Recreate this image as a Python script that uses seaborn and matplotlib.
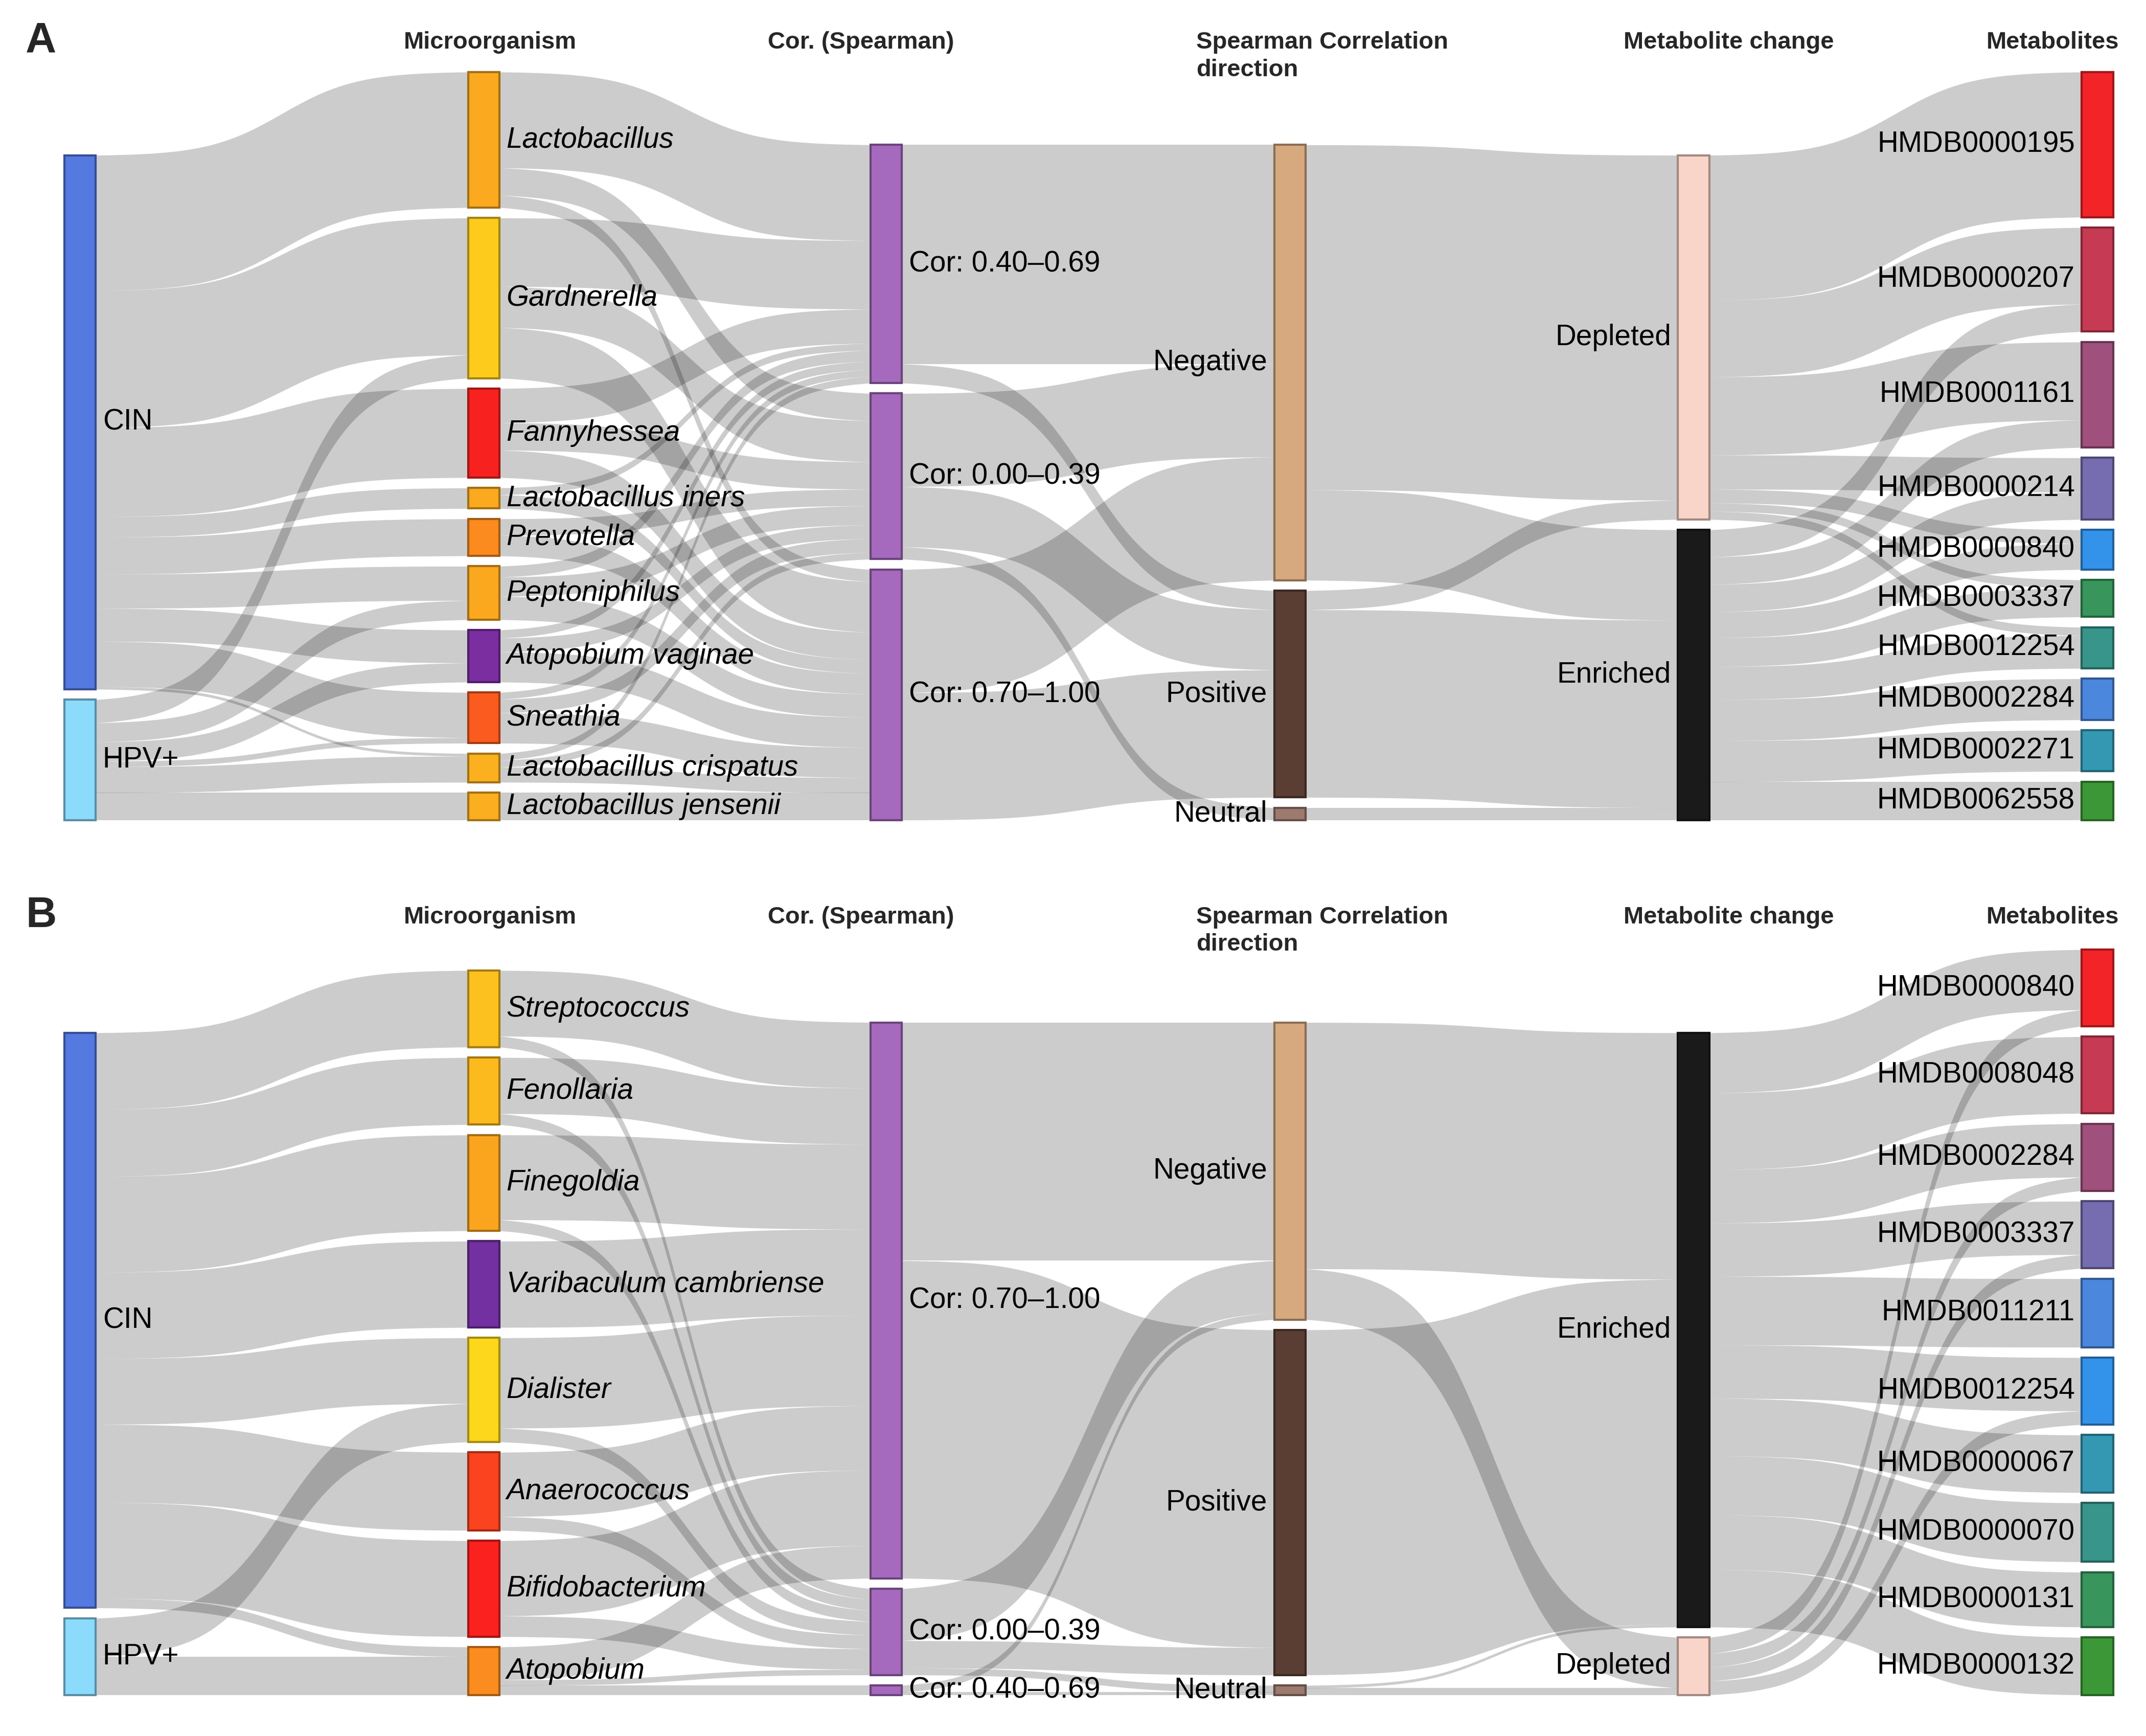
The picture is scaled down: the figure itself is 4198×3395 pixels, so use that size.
import numpy as np
import matplotlib.pyplot as plt
import matplotlib.colors as mcolors
import seaborn as sns

sns.set_theme(style="white")
plt.rcParams['font.family'] = ['Liberation Sans', 'DejaVu Sans']

# ---- panel A ----
a_group = ["CIN", "HPV+"]
a_micro = ["Lactobacillus", "Gardnerella", "Fannyhessea", "Lactobacillus iners", "Prevotella",
           "Peptoniphilus", "Atopobium vaginae", "Sneathia", "Lactobacillus crispatus",
           "Lactobacillus jensenii"]
a_cor = ["Cor: 0.40–0.69", "Cor: 0.00–0.39", "Cor: 0.70–1.00"]
a_dir = ["Negative", "Positive", "Neutral"]
a_change = ["Depleted", "Enriched"]
a_metab = ["HMDB0000195", "HMDB0000207", "HMDB0001161", "HMDB0000214", "HMDB0000840",
           "HMDB0003337", "HMDB0012254", "HMDB0002284", "HMDB0002271", "HMDB0062558"]

a_group_micro = [
    ("CIN", "Lactobacillus", 99), ("CIN", "Gardnerella", 100), ("CIN", "Fannyhessea", 65),
    ("CIN", "Lactobacillus iners", 15), ("CIN", "Prevotella", 27), ("CIN", "Peptoniphilus", 25),
    ("CIN", "Atopobium vaginae", 24), ("CIN", "Sneathia", 33), ("CIN", "Lactobacillus crispatus", 2),
    ("HPV+", "Gardnerella", 17), ("HPV+", "Peptoniphilus", 14), ("HPV+", "Atopobium vaginae", 14),
    ("HPV+", "Sneathia", 4), ("HPV+", "Lactobacillus crispatus", 19), ("HPV+", "Lactobacillus jensenii", 20),
]
a_micro_cor = [
    ("Lactobacillus", "Cor: 0.40–0.69", 70), ("Lactobacillus", "Cor: 0.00–0.39", 20), ("Lactobacillus", "Cor: 0.70–1.00", 9),
    ("Gardnerella", "Cor: 0.40–0.69", 50), ("Gardnerella", "Cor: 0.00–0.39", 30), ("Gardnerella", "Cor: 0.70–1.00", 37),
    ("Fannyhessea", "Cor: 0.40–0.69", 25), ("Fannyhessea", "Cor: 0.00–0.39", 20), ("Fannyhessea", "Cor: 0.70–1.00", 20),
    ("Lactobacillus iners", "Cor: 0.40–0.69", 5), ("Lactobacillus iners", "Cor: 0.70–1.00", 10),
    ("Prevotella", "Cor: 0.00–0.39", 12), ("Prevotella", "Cor: 0.70–1.00", 15),
    ("Peptoniphilus", "Cor: 0.40–0.69", 8), ("Peptoniphilus", "Cor: 0.00–0.39", 14), ("Peptoniphilus", "Cor: 0.70–1.00", 17),
    ("Atopobium vaginae", "Cor: 0.40–0.69", 6), ("Atopobium vaginae", "Cor: 0.00–0.39", 10), ("Atopobium vaginae", "Cor: 0.70–1.00", 22),
    ("Sneathia", "Cor: 0.40–0.69", 5), ("Sneathia", "Cor: 0.00–0.39", 10), ("Sneathia", "Cor: 0.70–1.00", 22),
    ("Lactobacillus crispatus", "Cor: 0.40–0.69", 5), ("Lactobacillus crispatus", "Cor: 0.00–0.39", 5),
    ("Lactobacillus crispatus", "Cor: 0.70–1.00", 11),
    ("Lactobacillus jensenii", "Cor: 0.70–1.00", 20),
]
a_cor_dir = [
    ("Cor: 0.40–0.69", "Negative", 160), ("Cor: 0.40–0.69", "Positive", 14),
    ("Cor: 0.00–0.39", "Negative", 68), ("Cor: 0.00–0.39", "Positive", 44), ("Cor: 0.00–0.39", "Neutral", 9),
    ("Cor: 0.70–1.00", "Negative", 90), ("Cor: 0.70–1.00", "Positive", 93),
]
a_dir_change = [
    ("Negative", "Depleted", 252), ("Negative", "Enriched", 66),
    ("Positive", "Depleted", 14), ("Positive", "Enriched", 137),
    ("Neutral", "Enriched", 9),
]
a_change_metab = [
    ("Depleted", "HMDB0000195", 106), ("Depleted", "HMDB0000207", 56), ("Depleted", "HMDB0001161", 57),
    ("Depleted", "HMDB0000214", 25), ("Depleted", "HMDB0000840", 10), ("Depleted", "HMDB0003337", 6),
    ("Depleted", "HMDB0012254", 6),
    ("Enriched", "HMDB0000207", 20), ("Enriched", "HMDB0001161", 20), ("Enriched", "HMDB0000214", 20),
    ("Enriched", "HMDB0000840", 19), ("Enriched", "HMDB0003337", 21), ("Enriched", "HMDB0012254", 24),
    ("Enriched", "HMDB0002284", 30), ("Enriched", "HMDB0002271", 30), ("Enriched", "HMDB0062558", 28),
]

# ---- panel B ----
b_group = ["CIN", "HPV+"]
b_micro = ["Streptococcus", "Fenollaria", "Finegoldia", "Varibaculum cambriense", "Dialister",
           "Anaerococcus", "Bifidobacterium", "Atopobium"]
b_cor = ["Cor: 0.70–1.00", "Cor: 0.00–0.39", "Cor: 0.40–0.69"]
b_dir = ["Negative", "Positive", "Neutral"]
b_change = ["Enriched", "Depleted"]
b_metab = ["HMDB0000840", "HMDB0008048", "HMDB0002284", "HMDB0003337", "HMDB0011211",
           "HMDB0012254", "HMDB0000067", "HMDB0000070", "HMDB0000131", "HMDB0000132"]

b_group_micro = [
    ("CIN", "Streptococcus", 56), ("CIN", "Fenollaria", 49), ("CIN", "Finegoldia", 70),
    ("CIN", "Varibaculum cambriense", 63), ("CIN", "Dialister", 48), ("CIN", "Anaerococcus", 57),
    ("CIN", "Bifidobacterium", 70), ("CIN", "Atopobium", 7),
    ("HPV+", "Dialister", 28), ("HPV+", "Atopobium", 28),
]
b_micro_cor = [
    ("Streptococcus", "Cor: 0.70–1.00", 48), ("Streptococcus", "Cor: 0.00–0.39", 8),
    ("Fenollaria", "Cor: 0.70–1.00", 41), ("Fenollaria", "Cor: 0.00–0.39", 8),
    ("Finegoldia", "Cor: 0.70–1.00", 62), ("Finegoldia", "Cor: 0.00–0.39", 8),
    ("Varibaculum cambriense", "Cor: 0.70–1.00", 63),
    ("Dialister", "Cor: 0.70–1.00", 66), ("Dialister", "Cor: 0.00–0.39", 10),
    ("Anaerococcus", "Cor: 0.70–1.00", 47), ("Anaerococcus", "Cor: 0.00–0.39", 10),
    ("Bifidobacterium", "Cor: 0.70–1.00", 55), ("Bifidobacterium", "Cor: 0.00–0.39", 15),
    ("Atopobium", "Cor: 0.70–1.00", 24), ("Atopobium", "Cor: 0.00–0.39", 4), ("Atopobium", "Cor: 0.40–0.69", 7),
]
b_cor_dir = [
    ("Cor: 0.70–1.00", "Negative", 174), ("Cor: 0.70–1.00", "Positive", 232),
    ("Cor: 0.00–0.39", "Negative", 38), ("Cor: 0.00–0.39", "Positive", 20), ("Cor: 0.00–0.39", "Neutral", 5),
    ("Cor: 0.40–0.69", "Negative", 5), ("Cor: 0.40–0.69", "Neutral", 2),
]
b_dir_change = [
    ("Negative", "Enriched", 180), ("Negative", "Depleted", 37),
    ("Positive", "Enriched", 252),
    ("Neutral", "Enriched", 2), ("Neutral", "Depleted", 5),
]
b_change_metab = [
    ("Enriched", "HMDB0000840", 44), ("Enriched", "HMDB0008048", 56), ("Enriched", "HMDB0002284", 39),
    ("Enriched", "HMDB0003337", 39), ("Enriched", "HMDB0011211", 50), ("Enriched", "HMDB0012254", 39),
    ("Enriched", "HMDB0000067", 42), ("Enriched", "HMDB0000070", 43), ("Enriched", "HMDB0000131", 40),
    ("Enriched", "HMDB0000132", 42),
    ("Depleted", "HMDB0000840", 12), ("Depleted", "HMDB0002284", 10), ("Depleted", "HMDB0003337", 10),
    ("Depleted", "HMDB0012254", 10),
]

# node colours
node_colors = {
    "CIN": "#5479E1", "HPV+": "#8CDBFC",
    "Lactobacillus": "#FBAA1F", "Gardnerella": "#FDCB1C", "Fannyhessea": "#F7211F",
    "Lactobacillus iners": "#FBAA1F", "Prevotella": "#FB8A1F", "Peptoniphilus": "#FBA81F",
    "Atopobium vaginae": "#7A2EA0", "Sneathia": "#FB5B1F", "Lactobacillus crispatus": "#FBB01F",
    "Lactobacillus jensenii": "#FBAE1F",
    "Streptococcus": "#FCC01F", "Fenollaria": "#FCBA1F", "Finegoldia": "#FBA51F",
    "Varibaculum cambriense": "#7330A0", "Dialister": "#FDD71C", "Anaerococcus": "#FB431F",
    "Bifidobacterium": "#FB211F", "Atopobium": "#FB8C1F",
    "Cor: 0.40–0.69": "#A569BD", "Cor: 0.00–0.39": "#A569BD", "Cor: 0.70–1.00": "#A569BD",
    "Negative": "#D7A97F", "Positive": "#5A3E33", "Neutral": "#9C7A6E",
    "Depleted": "#F9D4C8", "Enriched": "#1A1A1A",
}
a_metab_colors = ["#F32428", "#C73A53", "#A0507C", "#766DB0", "#3393EA",
                  "#38965C", "#37958A", "#4C87DE", "#3598B3", "#3C9836"]
b_metab_colors = ["#F32428", "#C73A53", "#A0507C", "#766DB0", "#4C87DE",
                  "#3393EA", "#3598B3", "#37958A", "#38965C", "#3C9836"]

headers = ["Microorganism", "Cor. (Spearman)", "Spearman Correlation", "Metabolite change", "Metabolites"]

# layout (figure drawn in a 1568 x 1268 canvas)
W, H = 1568, 1268
COL_X = [47, 342, 636, 931, 1226, 1521]
NODE_W = 23
GAP = 7.6
LABEL_FS = 13.6
HEAD_FS = 11.3


def sigmoid(n=120, smooth=5):
    t = np.linspace(-smooth, smooth, n)
    s = 1 / (1 + np.exp(-t))
    return (s - s[0]) / (s[-1] - s[0])


def draw_panel(ax, columns, stages, metab_colors, bottom, letter):
    colors = dict(node_colors)
    colors.update(dict(zip(columns[-1], metab_colors)))
    # node sizes from the links
    sizes = []
    for ci, col in enumerate(columns):
        if ci == 0:
            sizes.append({n: sum(v for s, t, v in stages[0] if s == n) for n in col})
        else:
            sizes.append({n: sum(v for s, t, v in stages[ci - 1] if t == n) for n in col})
    tops = []
    for ci, col in enumerate(columns):
        y = bottom - sum(sizes[ci].values()) - GAP * (len(col) - 1)
        t = {}
        for n in col:
            t[n] = y
            y += sizes[ci][n] + GAP
        tops.append(t)

    sig = sigmoid()
    for si, stage in enumerate(stages):
        src, dst = columns[si], columns[si + 1]
        off_out = dict(tops[si])
        off_in = dict(tops[si + 1])
        y_out, y_in = {}, {}
        for s, t, v in sorted(stage, key=lambda l: (src.index(l[0]), dst.index(l[1]))):
            y_out[(s, t)] = off_out[s]
            off_out[s] += v
        for s, t, v in sorted(stage, key=lambda l: (dst.index(l[1]), src.index(l[0]))):
            y_in[(s, t)] = off_in[t]
            off_in[t] += v
        x0, x1 = COL_X[si] + NODE_W, COL_X[si + 1]
        xs = x0 + (x1 - x0) * np.linspace(0, 1, len(sig))
        for s, t, v in stage:
            a, b = y_out[(s, t)], y_in[(s, t)]
            top = a + (b - a) * sig
            ax.fill_between(xs, top, top + v, color="black", alpha=0.2, lw=0, zorder=1)

    for ci, col in enumerate(columns):
        for n in col:
            c = colors[n]
            edge = tuple(np.array(mcolors.to_rgb(c)) * 0.65)
            ax.bar(COL_X[ci], sizes[ci][n], bottom=tops[ci][n], width=NODE_W, align="edge",
                   color=c, edgecolor=edge, linewidth=1.0, zorder=2)
            yc = tops[ci][n] + sizes[ci][n] / 2
            if ci <= 2:
                ax.text(COL_X[ci] + NODE_W + 5, yc, n, ha="left", va="center", fontsize=LABEL_FS,
                        style="italic" if ci == 1 else "normal", color="black", zorder=3)
            else:
                ax.text(COL_X[ci] - 5, yc, n, ha="right", va="center", fontsize=LABEL_FS,
                        color="black", zorder=3)

    top0 = bottom - 599
    ax.text(30, top0 + 30, letter, ha="center", va="center", fontsize=20, fontweight="bold")
    ax.text(358, top0 + 31, headers[0], ha="center", va="center", fontsize=HEAD_FS, fontweight="bold")
    ax.text(629, top0 + 31, headers[1], ha="center", va="center", fontsize=HEAD_FS, fontweight="bold")
    ax.text(874, top0 + 31, headers[2], ha="left", va="center", fontsize=HEAD_FS, fontweight="bold")
    ax.text(874, top0 + 51, "direction", ha="left", va="center", fontsize=HEAD_FS, fontweight="bold")
    ax.text(1263, top0 + 31, headers[3], ha="center", va="center", fontsize=HEAD_FS, fontweight="bold")
    ax.text(1500, top0 + 31, headers[4], ha="center", va="center", fontsize=HEAD_FS, fontweight="bold")


fig = plt.figure(figsize=(4198 / 300, 3395 / 300), dpi=300)
ax = fig.add_axes([0, 0, 1, 1])
ax.set_xlim(0, W)
ax.set_ylim(H, 0)
ax.axis("off")

draw_panel(ax, [a_group, a_micro, a_cor, a_dir, a_change, a_metab],
           [a_group_micro, a_micro_cor, a_cor_dir, a_dir_change, a_change_metab],
           a_metab_colors, 599, "A")
draw_panel(ax, [b_group, b_micro, b_cor, b_dir, b_change, b_metab],
           [b_group_micro, b_micro_cor, b_cor_dir, b_dir_change, b_change_metab],
           b_metab_colors, 1238, "B")

fig.savefig("out.png", dpi=300, facecolor="white")
